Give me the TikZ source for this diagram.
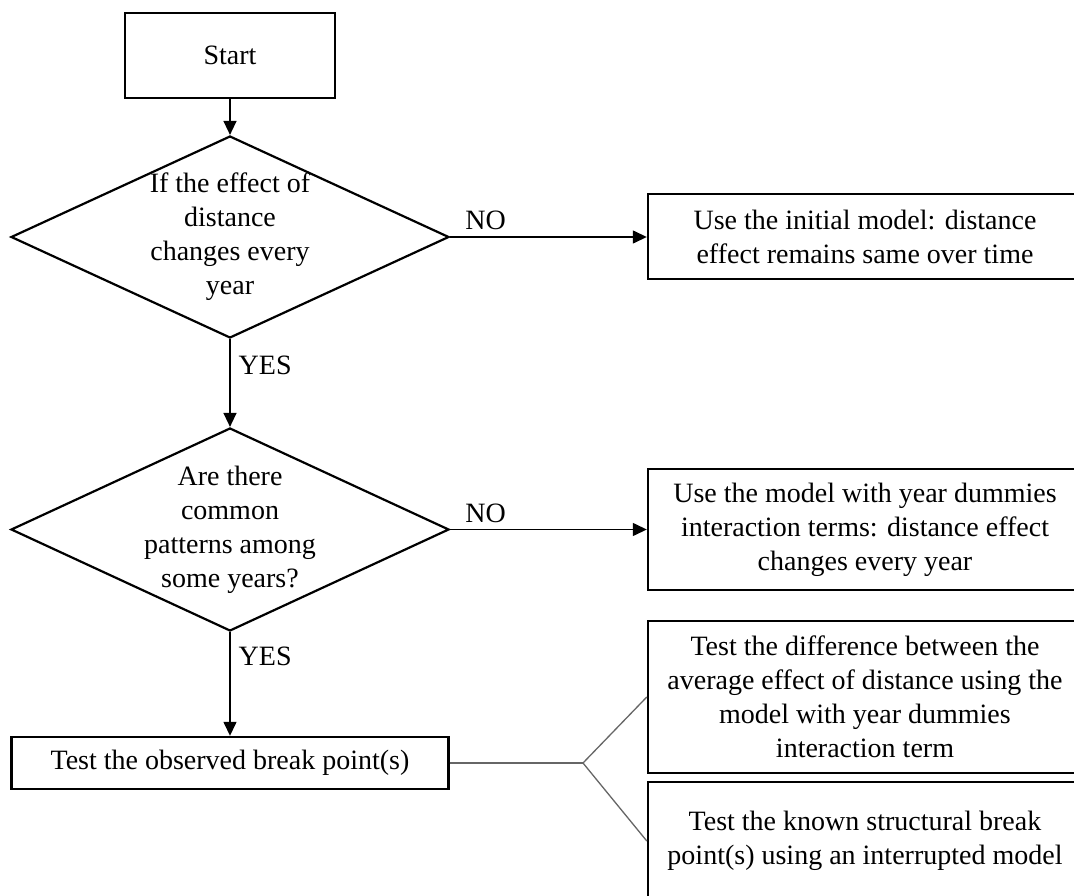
\documentclass[tikz,border=0pt]{standalone}
\usepackage{fontspec}
\setmainfont{Liberation Serif}
\usetikzlibrary{shapes.geometric,arrows.meta}
\begin{document}
\begin{tikzpicture}[x=1pt,y=-1pt,
  txt/.style={font=\fontsize{28}{34}\selectfont, align=center},
  box/.style={draw, line width=2.4pt, rectangle, inner sep=0pt, txt},
  dia/.style={draw, line width=2.2pt, diamond, inner sep=0pt},
  arr/.style={line width=1.4pt, -{Triangle[length=14pt,width=13pt]}},
  lab/.style={font=\fontsize{28}{34}\selectfont, inner sep=0pt},
  branch/.style={line width=1.3pt, draw=black!60}]
\useasboundingbox (0,0) rectangle (1074,896);
\fill[white] (0,0) rectangle (1074,896);

\node[box, minimum width=210pt, minimum height=85pt] (start) at (230,55.5) {Start};

\node[dia, minimum width=438pt, minimum height=202pt,
  label={[name=d1t, txt]center:If the effect of\\distance\\changes every\\year}] (d1) at (230,237) {};

\node[box, minimum width=434pt, minimum height=85pt] (b1) at (865,236.5)
  {Use the initial model: distance\\effect remains same over time};

\node[dia, minimum width=438pt, minimum height=203pt,
  label={[name=d2t, txt]center:Are there\\common\\patterns among\\some years?}] (d2) at (230,529.5) {};

\node[box, minimum width=434pt, minimum height=121pt] (b2) at (865,529.5)
  {Use the model with year dummies\\interaction terms: distance effect\\changes every year};

\node[box, minimum width=437pt, minimum height=52pt] (b3) at (230,763)
  {Test the observed break point(s)};

\node[box, minimum width=434pt, minimum height=152pt] (b4) at (865,697)
  {Test the difference between the\\average effect of distance using the\\model with year dummies\\interaction term};

\node[box, minimum width=434pt, minimum height=118pt] (b5) at (865,841)
  {Test the known structural break\\point(s) using an interrupted model};

\coordinate (br) at (583,763);

\draw[arr] (start.south) -- (d1.north);
\draw[arr] (d1.east) -- node[lab, pos=0.18, anchor=base, yshift=7pt] (no1) {NO} (b1.west |- d1.east);
\draw[arr] (d1.south) -- node[lab, pos=0.3, anchor=west, xshift=8pt] (yes1) {YES} (d2.north);
\draw[arr] (d2.east) -- node[lab, pos=0.18, anchor=base, yshift=7pt] (no2) {NO} (b2.west |- d2.east);
\draw[arr] (d2.south) -- node[lab, pos=0.23, anchor=west, xshift=8pt] (yes2) {YES} (b3.north);
\draw[branch] (b3.east) -- (br);
\draw[branch] (br) -- (b4.west);
\draw[branch] (br) -- (b5.west);
\end{tikzpicture}
\end{document}
